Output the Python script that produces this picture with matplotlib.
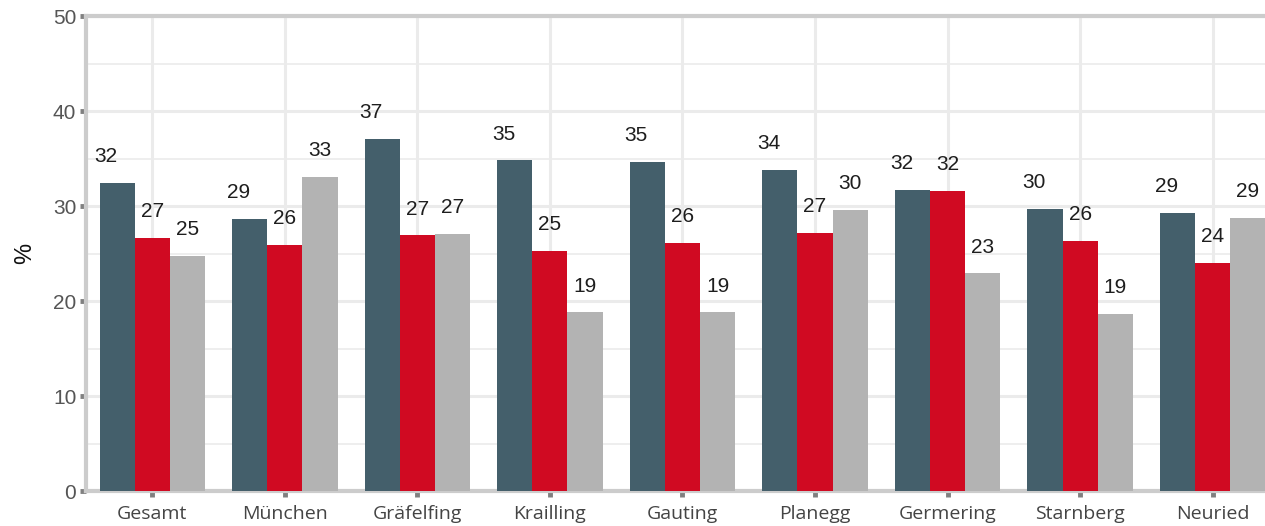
import matplotlib.pyplot as plt
import numpy as np

CATEGORIES = ['Gesamt', 'München', 'Gräfelfing', 'Krailling', 'Gauting',
              'Planegg', 'Germering', 'Starnberg', 'Neuried']
SERIES_A = [32.4, 28.6, 37.1, 34.8, 34.6, 33.8, 31.7, 29.7, 29.3]
SERIES_B = [26.6, 25.9, 26.9, 25.3, 26.1, 27.2, 31.6, 26.3, 24.0]
SERIES_C = [24.7, 33.1, 27.1, 18.8, 18.8, 29.6, 22.9, 18.6, 28.7]
COLORS = ['#445f6b', '#d00a22', '#b3b3b3']

fig = plt.figure(figsize=(12.65, 5.26), dpi=100)
ax = fig.add_axes([0.068, 0.0665, 0.943, 0.903])

x = np.arange(len(CATEGORIES))
w = 0.265
label_shift = [-8, 0, 0]
for i, (vals, col) in enumerate(zip([SERIES_A, SERIES_B, SERIES_C], COLORS)):
    pos = x + (i - 1) * w
    ax.bar(pos, vals, width=w, color=col, zorder=3)
    for px, v in zip(pos, vals):
        ax.annotate(f'{round(v)}', (px, v), xytext=(label_shift[i], 19),
                    textcoords='offset points', ha='center', va='center',
                    fontsize=15, family='Liberation Sans', color='#1e1e1e',
                    zorder=4)

ax.set_xlim(-0.5, len(CATEGORIES) - 0.5)
ax.set_ylim(0, 50)
ax.set_yticks(np.arange(0, 51, 10))
ax.set_yticks(np.arange(5, 50, 10), minor=True)
ax.set_xticks(x)
ax.set_xticklabels(CATEGORIES, fontsize=14, family='Open Sans', color='#444444')
for t in ax.get_yticklabels():
    t.set_fontsize(15)
    t.set_family('Liberation Sans')
    t.set_color('#555555')

ax.grid(axis='y', which='major', color='#ebebeb', linewidth=2.2, zorder=0)
ax.grid(axis='y', which='minor', color='#ebebeb', linewidth=1.2, zorder=0)
ax.grid(axis='x', which='major', color='#ebebeb', linewidth=2.2, zorder=0)

for side in ['left', 'top', 'bottom']:
    ax.spines[side].set_color('#cccccc')
    ax.spines[side].set_linewidth(3)
ax.spines['right'].set_visible(False)

ax.tick_params(axis='both', which='major', color='#808080', length=4, width=3.5)
ax.tick_params(axis='y', which='minor', length=0)
ax.tick_params(axis='y', pad=3)
ax.tick_params(axis='x', pad=6)

ax.set_ylabel('%', fontsize=17, family='Liberation Sans', color='#111111', labelpad=12)

fig.savefig('out.png', dpi=100)
